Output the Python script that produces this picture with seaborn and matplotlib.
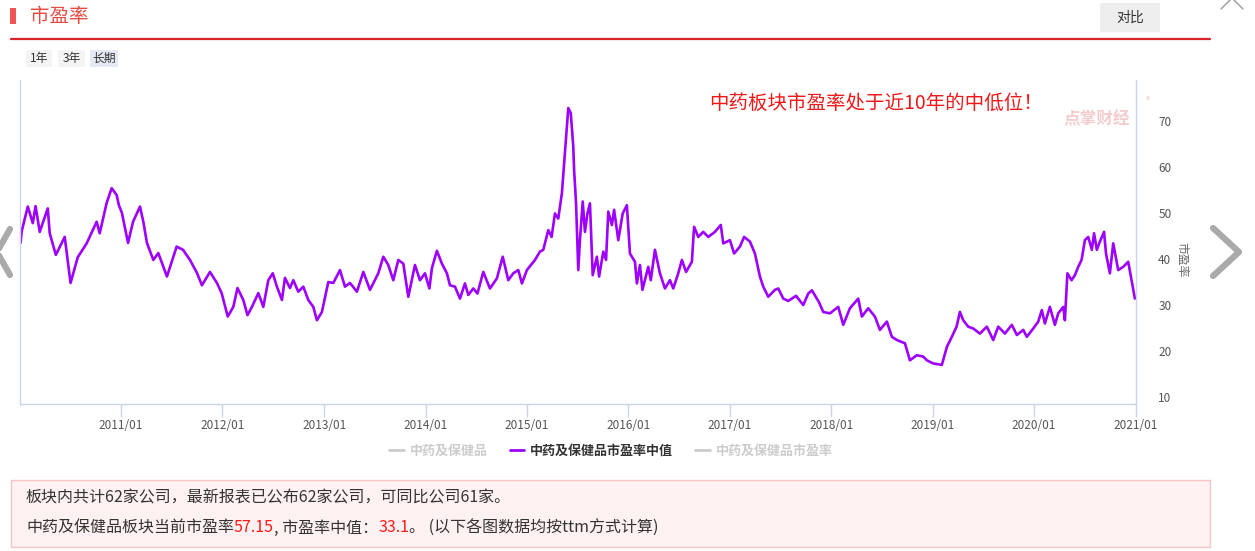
import pandas as pd
import seaborn as sns
import matplotlib.pyplot as plt
import matplotlib.dates as mdates
from matplotlib.lines import Line2D
from matplotlib.patches import Rectangle

sns.set_theme(style="white")
plt.rcParams["font.family"] = ["Noto Sans CJK SC", "DejaVu Sans"]
plt.rcParams["axes.unicode_minus"] = False

# ---- data ----
dates = [
    "2010-01-04", "2010-01-08", "2010-01-30", "2010-02-17", "2010-02-27", "2010-03-14",
    "2010-04-12", "2010-04-19", "2010-05-11", "2010-06-12", "2010-07-03", "2010-07-29",
    "2010-08-30", "2010-10-05", "2010-10-16", "2010-11-10", "2010-11-28", "2010-12-16",
    "2010-12-24", "2011-01-04", "2011-01-26", "2011-02-13", "2011-03-10", "2011-03-22",
    "2011-04-04", "2011-04-27", "2011-05-15", "2011-06-15", "2011-07-20", "2011-08-12",
    "2011-09-06", "2011-10-01", "2011-10-19", "2011-11-17", "2011-12-12", "2011-12-29",
    "2012-01-20", "2012-02-09", "2012-02-24", "2012-03-16", "2012-03-31", "2012-04-16",
    "2012-05-09", "2012-05-27", "2012-06-14", "2012-06-30", "2012-07-15", "2012-08-02",
    "2012-08-13", "2012-08-31", "2012-09-12", "2012-09-30", "2012-10-18", "2012-11-05",
    "2012-11-23", "2012-12-06", "2012-12-24", "2013-01-16", "2013-02-03", "2013-02-27",
    "2013-03-17", "2013-04-04", "2013-04-29", "2013-05-22", "2013-06-15", "2013-07-15",
    "2013-08-02", "2013-08-20", "2013-09-07", "2013-09-25", "2013-10-13", "2013-10-31",
    "2013-11-24", "2013-12-12", "2013-12-30", "2014-01-15", "2014-01-24", "2014-02-11",
    "2014-03-01", "2014-03-19", "2014-03-30", "2014-04-17", "2014-05-05", "2014-05-23",
    "2014-06-04", "2014-06-22", "2014-07-07", "2014-07-28", "2014-08-21", "2014-09-15",
    "2014-10-06", "2014-10-26", "2014-11-13", "2014-12-01", "2014-12-14", "2015-01-01",
    "2015-01-30", "2015-02-17", "2015-03-01", "2015-03-19", "2015-03-31", "2015-04-12",
    "2015-04-24", "2015-05-07", "2015-05-18", "2015-05-30", "2015-06-08", "2015-06-17",
    "2015-06-20", "2015-06-27", "2015-07-05", "2015-07-11", "2015-07-21", "2015-07-29",
    "2015-08-07", "2015-08-16", "2015-08-26", "2015-09-10", "2015-09-18", "2015-10-03",
    "2015-10-13", "2015-10-21", "2015-11-03", "2015-11-11", "2015-11-26", "2015-12-12",
    "2015-12-27", "2016-01-07", "2016-01-25", "2016-02-01", "2016-02-12", "2016-02-21",
    "2016-03-13", "2016-03-22", "2016-04-06", "2016-04-24", "2016-05-12", "2016-05-30",
    "2016-06-11", "2016-06-29", "2016-07-12", "2016-07-27", "2016-08-17", "2016-08-25",
    "2016-09-09", "2016-09-27", "2016-10-15", "2016-11-08", "2016-11-29", "2016-12-08",
    "2017-01-01", "2017-01-16", "2017-02-06", "2017-02-21", "2017-03-14", "2017-04-01",
    "2017-04-19", "2017-05-01", "2017-05-19", "2017-06-12", "2017-06-24", "2017-07-12",
    "2017-07-30", "2017-08-27", "2017-09-22", "2017-10-10", "2017-10-23", "2017-11-17",
    "2017-12-03", "2017-12-27", "2018-01-26", "2018-02-13", "2018-03-09", "2018-04-08",
    "2018-04-21", "2018-05-14", "2018-06-07", "2018-06-25", "2018-07-20", "2018-08-07",
    "2018-08-25", "2018-09-23", "2018-10-11", "2018-11-05", "2018-11-28", "2018-12-11",
    "2019-01-03", "2019-02-03", "2019-02-21", "2019-03-11", "2019-03-28", "2019-04-09",
    "2019-04-21", "2019-05-09", "2019-05-27", "2019-06-20", "2019-07-15", "2019-08-07",
    "2019-08-25", "2019-09-18", "2019-10-13", "2019-10-31", "2019-11-23", "2019-12-06",
    "2019-12-29", "2020-01-16", "2020-01-29", "2020-02-09", "2020-02-27", "2020-03-16",
    "2020-03-28", "2020-04-15", "2020-04-21", "2020-04-30", "2020-05-15", "2020-05-27",
    "2020-06-08", "2020-06-20", "2020-07-02", "2020-07-14", "2020-07-27", "2020-08-04",
    "2020-08-14", "2020-08-25", "2020-09-09", "2020-09-16", "2020-09-30", "2020-10-12",
    "2020-10-30", "2020-11-17", "2020-12-05", "2020-12-17", "2020-12-29",
]
pe_median = [
    43.5, 46.0, 51.4, 47.8, 51.5, 45.9,
    51.0, 45.6, 40.9, 44.8, 34.8, 40.4,
    43.4, 48.1, 45.6, 52.2, 55.4, 53.9,
    51.7, 50.0, 43.5, 48.1, 51.4, 48.1,
    43.5, 39.8, 41.3, 36.2, 42.7, 42.0,
    39.8, 37.0, 34.3, 37.2, 34.8, 32.6,
    27.5, 29.6, 33.7, 31.1, 27.8, 29.6,
    32.6, 29.6, 35.4, 36.9, 34.0, 31.1,
    35.9, 33.7, 35.4, 32.9, 34.0, 31.1,
    29.6, 26.7, 28.5, 35.0, 34.8, 37.6,
    34.0, 34.8, 32.9, 37.2, 33.3, 36.9,
    40.5, 38.7, 35.4, 39.8, 39.0, 31.8,
    38.7, 35.4, 36.9, 33.6, 38.0, 41.8,
    39.0, 36.9, 34.3, 34.0, 31.4, 34.7,
    32.2, 33.6, 32.5, 37.2, 33.6, 35.8,
    40.5, 35.4, 36.9, 37.6, 34.7, 37.6,
    39.8, 41.6, 42.0, 46.3, 44.8, 49.9,
    48.8, 54.3, 63.0, 72.8, 71.7, 64.4,
    59.3, 52.1, 37.6, 44.1, 52.5, 45.9,
    49.9, 52.1, 36.5, 40.5, 36.2, 41.6,
    39.8, 50.3, 47.4, 50.7, 44.1, 49.9,
    51.7, 41.2, 39.4, 34.7, 38.7, 33.3,
    38.3, 35.4, 42.0, 36.9, 33.6, 35.4,
    33.6, 36.9, 39.8, 37.2, 39.4, 47.0,
    44.8, 45.9, 44.8, 45.9, 47.4, 43.4,
    44.1, 41.2, 42.7, 44.8, 43.8, 41.2,
    36.2, 34.0, 31.8, 33.3, 33.6, 31.4,
    30.9, 32.0, 30.0, 32.5, 33.2, 30.7,
    28.5, 28.2, 29.6, 25.7, 29.3, 31.4,
    27.5, 29.3, 27.5, 24.6, 26.4, 23.1,
    22.4, 21.7, 18.0, 19.1, 18.8, 18.0,
    17.3, 17.0, 20.9, 23.1, 25.3, 28.5,
    26.7, 25.3, 24.9, 23.8, 25.3, 22.4,
    25.3, 23.8, 25.7, 23.5, 24.6, 23.1,
    24.9, 26.4, 28.9, 26.0, 29.6, 25.7,
    28.2, 29.6, 26.7, 36.9, 35.4, 36.5,
    38.3, 39.8, 44.1, 44.8, 42.0, 45.6,
    42.0, 43.8, 45.9, 41.2, 36.9, 43.4,
    37.6, 38.3, 39.4, 35.4, 31.4,
]
y_ticks = [10, 20, 30, 40, 50, 60, 70]
legend_labels = ["中药及保健品", "中药及保健品市盈率中值", "中药及保健品市盈率"]
range_buttons = ["1年", "3年", "长期"]

PURPLE = "#9d00ff"
AXIS = "#c9d5ea"
RED = "#ff1a1a"

W, H = 1255, 551
fig = plt.figure(figsize=(W / 100, H / 100), dpi=100)


def fx(x):
    return x / W


def fy(y):
    return 1 - y / H


def rect(x, y, w, h, **kw):
    fig.add_artist(Rectangle((fx(x), fy(y + h)), w / W, h / H, transform=fig.transFigure, **kw))


def line(xs, ys, **kw):
    fig.add_artist(Line2D([fx(v) for v in xs], [fy(v) for v in ys], transform=fig.transFigure, **kw))


# ==================== 主图 ====================
ax = fig.add_axes([fx(20), fy(404), fx(1136) - fx(20), fy(80) - fy(404)])
df = pd.DataFrame({"date": pd.to_datetime(dates), "pe": pe_median})
sns.lineplot(data=df, x="date", y="pe", ax=ax, color=PURPLE, linewidth=1.9)

ax.set_xlim(pd.Timestamp("2010-01-02"), pd.Timestamp("2021-01-02"))
ax.set_ylim(8.5, 78.9)
ax.yaxis.tick_right()
ax.set_yticks(y_ticks)
ax.xaxis.set_major_locator(mdates.YearLocator())
ax.xaxis.set_major_formatter(mdates.DateFormatter("%Y/%m"))
ax.tick_params(axis="x", bottom=True, length=9, width=1, color=AXIS, labelcolor="#555555", labelsize=8.5, pad=2)
ax.tick_params(axis="y", right=False, length=0, labelcolor="#555555", labelsize=8.5, pad=16)
ax.set_xlabel("")
ax.set_ylabel("")
ax.spines["top"].set_visible(False)
for s in ["left", "right", "bottom"]:
    ax.spines[s].set_color(AXIS)
    ax.spines[s].set_linewidth(1)

fig.text(fx(1182), fy(260), "市盈率", rotation=-90, fontsize=8.5, color="#666666", ha="center", va="center")

# 注释与水印
fig.text(fx(709), fy(103), "中药板块市盈率处于近10年的中低位！", fontsize=14, color="#f01818", va="center")
fig.text(fx(1063), fy(119), "点掌财经", fontsize=12, weight="bold", color="#f4cccc", va="center")
fig.text(fx(1146), fy(101), "®", fontsize=6, color="#f4cccc", va="center")

# ==================== 标题栏 ====================
rect(10, 8, 6, 16, facecolor="#f05555", edgecolor="none")
fig.text(fx(30), fy(16), "市盈率", fontsize=14, color="#e64a40", va="center")
line([11, 1210], [38.5, 38.5], color="#dd2228", lw=1.6)

rect(1100, 3, 60, 29, facecolor="#eeeeee", edgecolor="none")
fig.text(fx(1130), fy(18), "对比", fontsize=10, color="#333333", ha="center", va="center")
line([1221, 1232, 1243], [9, -2, 9], color="#999999", lw=1)

btn_x = [26, 58, 90]
btn_w = [26, 27, 28]
btn_bg = ["#f4f4f4", "#f4f4f4", "#e4e9f4"]
for lab, bx, bw, bg in zip(range_buttons, btn_x, btn_w, btn_bg):
    rect(bx, 50, bw, 17, facecolor=bg, edgecolor="none")
    fig.text(fx(bx + bw / 2), fy(58.5), lab, fontsize=8.5, color="#333333", ha="center", va="center")

# 左右翻页箭头
line([10, -3, 10], [229, 252, 275], color="#aaaaaa", lw=4.5)
line([1213, 1239, 1213], [228, 252, 276], color="#aaaaaa", lw=4.5)

# ==================== 图例 ====================
leg_colors = ["#cccccc", PURPLE, "#cccccc"]
text_colors = ["#cccccc", "#333333", "#cccccc"]
handles = [Line2D([], [], color=c, lw=2) for c in leg_colors]
leg = fig.legend(handles, legend_labels, loc="center", bbox_to_anchor=(fx(611), fy(451)), ncol=3,
                 frameon=False, handlelength=1.1, handletextpad=0.45, columnspacing=1.7,
                 prop={"weight": "bold", "size": 9.4})
for t, c in zip(leg.get_texts(), text_colors):
    t.set_color(c)

# ==================== 底部说明 ====================
rect(11, 480, 1199, 67, facecolor="#fdf1f1", edgecolor="#f6c4c4", lw=1)
fig.text(fx(26), fy(498), "板块内共计62家公司，最新报表已公布62家公司，可同比公司61家。",
         fontsize=11.5, color="#333333", va="center")

renderer = fig.canvas.get_renderer()
segments = [
    ("中药及保健品板块当前市盈率", "#333333"),
    ("57.15", RED),
    (", 市盈率中值：", "#333333"),
    ("33.1", RED),
    ("。 (以下各图数据均按ttm方式计算)", "#333333"),
]
cur = 26
for s, c in segments:
    t = fig.text(fx(cur), fy(528), s, fontsize=11.5, color=c, va="center")
    cur += t.get_window_extent(renderer=renderer).width

fig.savefig("out.png", dpi=100)
plt.close(fig)
